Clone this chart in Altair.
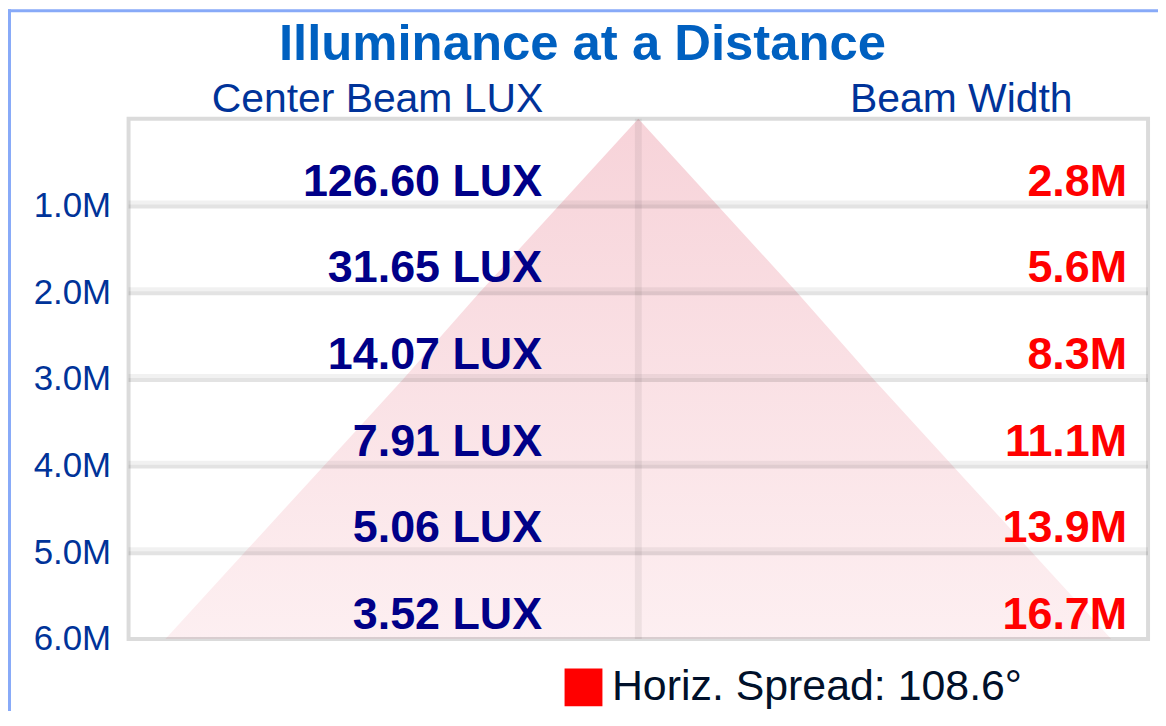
import altair as alt
import pandas as pd

# ---- data ----
distance = [1, 2, 3, 4, 5, 6]                       # metres
center_lux = [126.60, 31.65, 14.07, 7.91, 5.06, 3.52]
beam_width = [2.8, 5.6, 8.3, 11.1, 13.9, 16.7]       # metres
spread_deg = 108.6

title_text = "Illuminance at a Distance"
col1_text = "Center Beam LUX"
col2_text = "Beam Width"
legend_text = f"Horiz. Spread: {spread_deg}°"

FONT = "Liberation Sans"
W, H = 1023, 522

rows = pd.DataFrame({"d": distance, "lux": center_lux, "beam": beam_width})
rows["lux_label"] = [f"{v:.2f} LUX" for v in center_lux]
rows["beam_label"] = [f"{v:.1f}M" for v in beam_width]
grid_rows = rows[rows["d"] < 6]

cone = pd.DataFrame({"d": [0] + distance, "half": [0.0] + [b / 2 for b in beam_width]})
cone["neg"] = -cone["half"]

one = pd.DataFrame({"k": [0]})
leg = pd.DataFrame({"series": [legend_text]})

yscale = alt.Scale(domain=[0, 6], reverse=True, nice=False, zero=False)
xscale = alt.Scale(domain=[-9, 9], nice=False, zero=False)
yaxis = alt.Axis(values=distance, title=None, domain=False, ticks=False, tickSize=0,
                 grid=False, labelExpr="format(datum.value, '.1f') + 'M'",
                 labelFont=FONT, labelFontSize=35, labelColor="#003399",
                 labelPadding=18, labelFlush=False, labelOverlap=False,
                 labelBaseline="middle")
Y = alt.Y("d:Q", scale=yscale, axis=yaxis)

# cone (triangle)
cone_layer = alt.Chart(cone).mark_area(
    orient="horizontal",
    color=alt.Gradient(
        gradient="linear",
        stops=[alt.GradientStop(color="#f7d3d9", offset=0),
               alt.GradientStop(color="#fdeff1", offset=1)],
        x1=0, x2=0, y1=0, y2=1,
    ),
).encode(
    y=Y,
    x=alt.X("neg:Q", scale=xscale, axis=None),
    x2="half:Q",
)

center_line = alt.Chart(one).mark_rule(color="#000000", opacity=0.06, strokeWidth=7).encode(
    x=alt.X(datum=0, scale=xscale, axis=None),
    y=alt.value(0), y2=alt.value(H),
)

grid_light = alt.Chart(grid_rows).mark_rule(color="#000000", opacity=0.055, strokeWidth=4, yOffset=-3).encode(
    y=Y, x=alt.value(0), x2=alt.value(W),
)
grid_dark = alt.Chart(grid_rows).mark_rule(color="#000000", opacity=0.11, strokeWidth=4, yOffset=1).encode(
    y=Y, x=alt.value(0), x2=alt.value(W),
)

frame = alt.Chart(one).mark_rect(filled=False, stroke="#000000", strokeOpacity=0.14, strokeWidth=4).encode(
    x=alt.value(0), x2=alt.value(W), y=alt.value(0), y2=alt.value(H),
)

lux_text = alt.Chart(rows).mark_text(
    align="right", baseline="alphabetic", dy=-10, font=FONT, fontSize=45,
    fontWeight="bold", color="#000088",
).encode(y=Y, x=alt.value(415), text="lux_label:N")

beam_text = alt.Chart(rows).mark_text(
    align="right", baseline="alphabetic", dy=-10, font=FONT, fontSize=45,
    fontWeight="bold", color="#ff0000",
).encode(y=Y, x=alt.value(1002), text="beam_label:N")

title_layer = alt.Chart(one).mark_text(
    align="center", baseline="alphabetic", font=FONT, fontSize=51, fontWeight="bold", color="#0060c0",
).encode(x=alt.value(455.5), y=alt.value(-59), text=alt.value(title_text))

col1 = alt.Chart(one).mark_text(
    align="right", baseline="alphabetic", font=FONT, fontSize=41, color="#003399",
).encode(x=alt.value(416), y=alt.value(-7), text=alt.value(col1_text))

col2 = alt.Chart(one).mark_text(
    align="left", baseline="alphabetic", font=FONT, fontSize=41, color="#003399",
).encode(x=alt.value(724), y=alt.value(-7), text=alt.value(col2_text))

legend_layer = alt.Chart(leg).mark_square(opacity=0, size=10).encode(
    x=alt.value(0), y=alt.value(0),
    color=alt.Color("series:N", scale=alt.Scale(range=["#ff0000"]),
                    legend=alt.Legend(orient="none", legendX=435, legendY=549, title=None,
                                      symbolType="square", symbolSize=1444, symbolOpacity=1,
                                      symbolStrokeWidth=0, labelFont=FONT, labelFontSize=43,
                                      labelColor="#00102a", labelOffset=7, padding=0,
                                      labelLimit=1000)),
)

border_top = alt.Chart(one).mark_rule(color="#88aaf8", strokeWidth=3).encode(
    x=alt.value(-121), x2=alt.value(1040), y=alt.value(-108.5),
)
border_left = alt.Chart(one).mark_rule(color="#88aaf8", strokeWidth=3).encode(
    x=alt.value(-119.5), y=alt.value(-110), y2=alt.value(620),
)

chart = alt.layer(
    cone_layer, center_line, grid_light, grid_dark, frame,
    lux_text, beam_text, title_layer, col1, col2, legend_layer,
    border_top, border_left,
).properties(
    width=W, height=H,
    padding={"left": 121, "top": 110, "right": 10, "bottom": 71},
    autosize=alt.AutoSizeParams(type="none"),
    background="#ffffff",
).configure_view(strokeWidth=0)

chart.save("out.html", embed_options={"renderer": "svg", "actions": False})
